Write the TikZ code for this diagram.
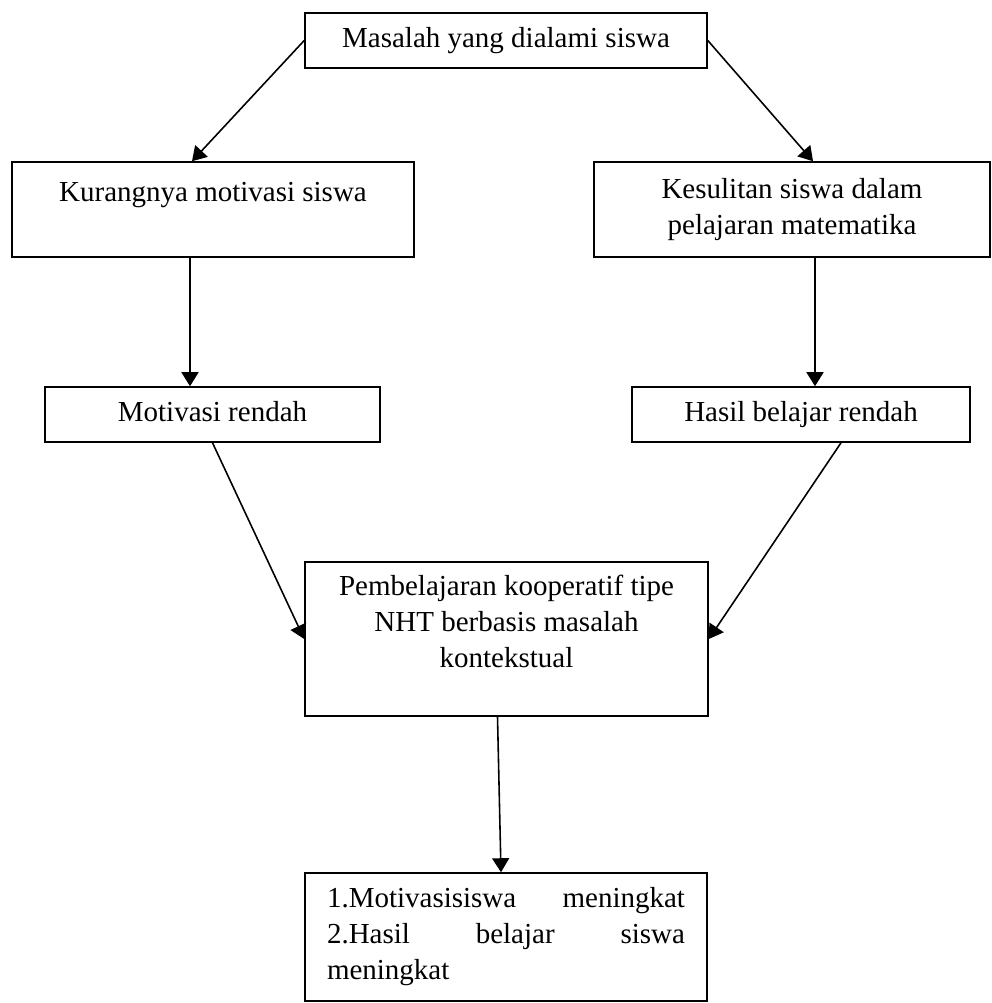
\documentclass[tikz,border=0pt]{standalone}
\usepackage{fontspec}
\setmainfont{Liberation Serif}
\usepackage{tikz}
\usetikzlibrary{positioning, calc, arrows.meta}

\tikzset{
  kotak/.style = {draw, rectangle, line width = 0.9pt, align = center,
    inner sep = 0.1cm},
  sebaris/.style = {text height = 0.42cm, text depth = 0.13cm},
  panah/.style = {-{Triangle[length = 0.28cm, width = 0.34cm]},
    line width = 0.9pt}
}

\begin{document}
\begin{tikzpicture}[font = \fontsize{16.5}{20.5}\selectfont]
        \useasboundingbox (0,0) rectangle (19.84,-20.06);
        % baris atas
        \node [kotak, sebaris, minimum width = 8.04 cm, minimum height = 1.1 cm]
        (masalah) at (10.12,-0.81) {Masalah yang dialami siswa};
        \node [kotak, minimum width = 8.04 cm, minimum height = 1.9 cm]
        (kurang) at (4.26,-4.19) {Kurangnya motivasi siswa\\~};
        \node [kotak, minimum width = 7.92 cm, minimum height = 1.9 cm]
        (sulit) at (15.84,-4.19) {Kesulitan siswa dalam\\pelajaran matematika};
        % baris tengah
        \node [kotak, sebaris, minimum width = 6.7 cm, minimum height = 1.1 cm]
        (motrendah) at (4.25,-8.29) {Motivasi rendah};
        \node [kotak, sebaris, minimum width = 6.76 cm, minimum height = 1.1 cm]
        (hasrendah) at (16.02,-8.29) {Hasil belajar rendah};
        \node [kotak, minimum width = 8.06 cm, minimum height = 3.08 cm]
        (nht) at (10.13,-12.78) {Pembelajaran kooperatif tipe\\NHT berbasis
        masalah\\kontekstual\\~};
        % hasil akhir
        \node [kotak, align = left, text width = 7.16 cm, inner xsep = 0.44 cm,
        minimum height = 2.56 cm] (akhir) at (10.12,-18.74)
        {1.Motivasisiswa\hfill meningkat\\2.Hasil\hfill belajar\hfill
        siswa\\meningkat};

        \coordinate (k1) at ($(kurang.south) + (-0.46,0)$);
        \coordinate (s1) at ($(sulit.south) + (0.46,0)$);
        \draw [panah] (masalah.west) -- ($(kurang.north) + (-0.42,0)$);
        \draw [panah] (masalah.east) -- ($(sulit.north) + (0.42,0)$);
        \draw [panah] (k1) -- (k1 |- motrendah.north);
        \draw [panah] (s1) -- (s1 |- hasrendah.north);
        \draw [panah] (motrendah.south) -- (nht.west);
        \draw [panah] ($(hasrendah.south) + (0.8,0)$) -- (nht.east);
        \draw [panah] ($(nht.south) + (-0.18,0)$) -- ($(akhir.north) + (-0.1,0)$);
    \end{tikzpicture}
\end{document}
